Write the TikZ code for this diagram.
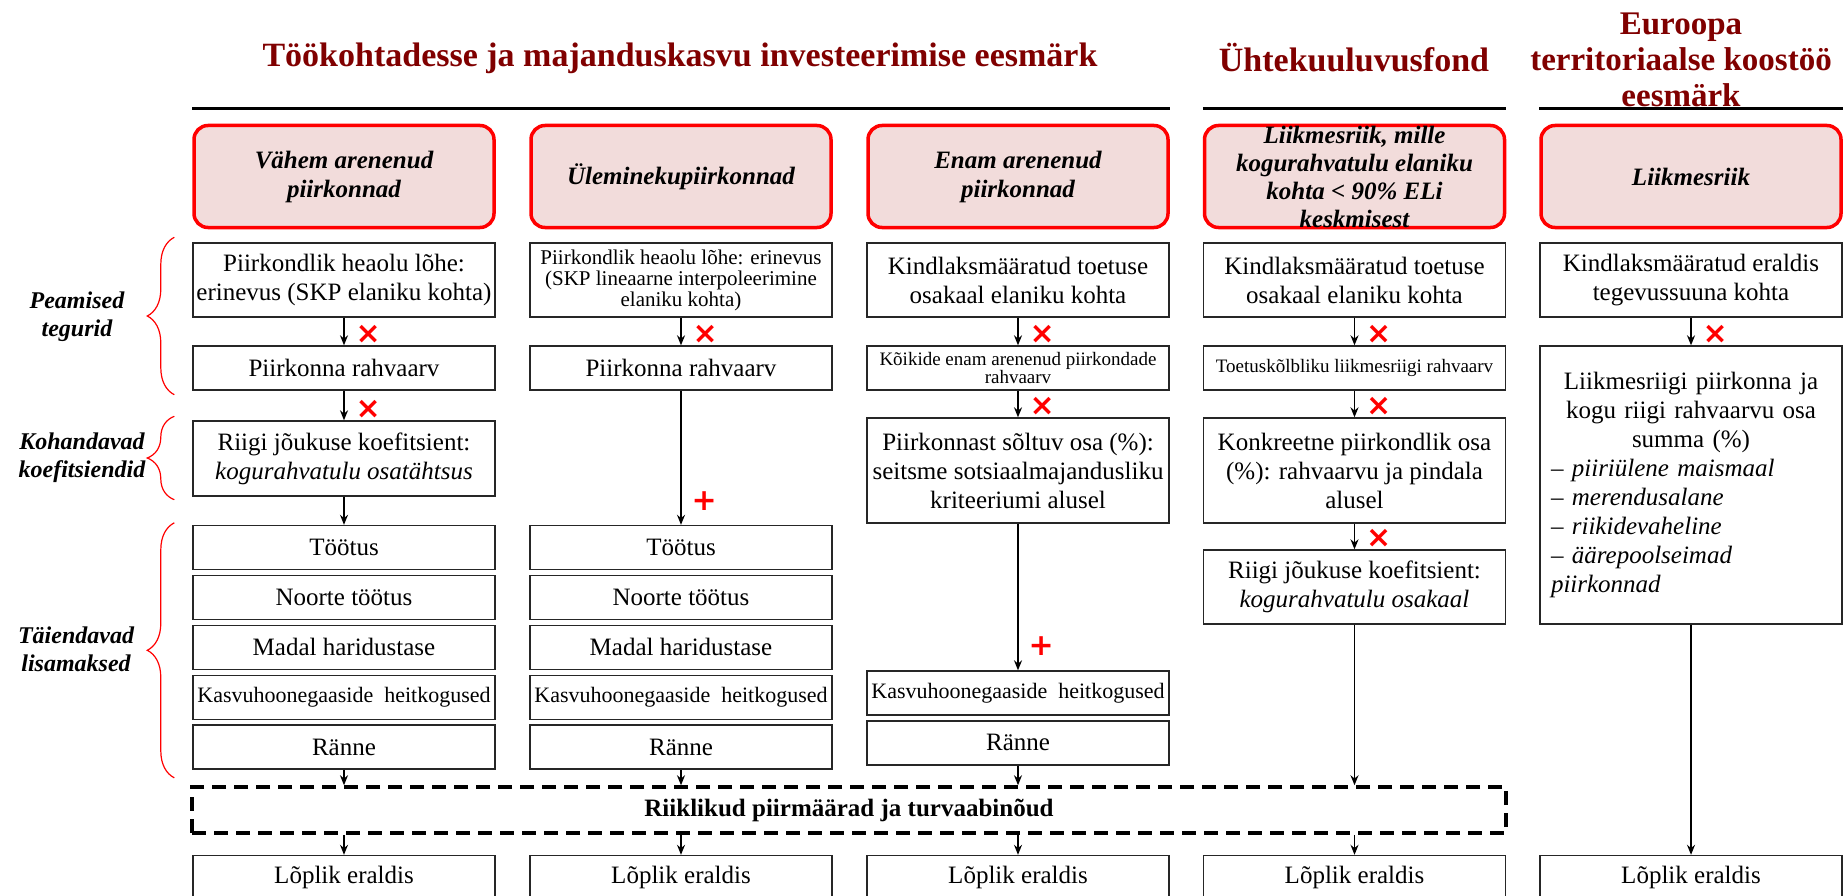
\documentclass[tikz,border=0pt]{standalone}
\usepackage{fontspec}
\setmainfont{Liberation Serif}
\newfontfamily\markfont{DejaVu Sans}
\usepackage{tikz}
\usetikzlibrary{positioning}
\usetikzlibrary{arrows.meta,decorations.pathreplacing}
\definecolor{titlered}{RGB}{128,0,0}
\definecolor{headfill}{RGB}{242,220,219}

\begin{document}
\begin{tikzpicture}[->,>={Stealth[length=10pt,width=8pt]},x=1pt,y=-1pt,node distance=4.5pt,
        box/.style={draw=black!85,line width=1.4pt,minimum width=302pt,minimum height=44pt,
          inner sep=1pt,align=center,font=\fontsize{25}{29}\selectfont},
        headbox/.style={draw=red,fill=headfill,line width=3.5pt,rounded corners=14pt,
          minimum width=300pt,minimum height=102pt,inner sep=0pt,align=center,
          font=\fontsize{25}{29}\selectfont\bfseries\itshape},
        headline/.style={text=titlered,align=center,font=\fontsize{34}{36}\selectfont\bfseries},
        topline/.style={-,line width=2.5pt},
        sidelabel/.style={align=center,font=\fontsize{24}{28}\selectfont\bfseries\itshape},
        brc/.style={-,draw=red,line width=1.2pt,decorate,decoration={brace,amplitude=27pt}},
        smallb/.style={font=\fontsize{21}{21}\selectfont},
        smallc/.style={font=\fontsize{19}{18}\selectfont},
        kasvtext/.style={font=\fontsize{22}{26}\selectfont},
        riikbox/.style={draw,line width=3.5pt,dash pattern=on 14pt off 8pt,minimum width=1314pt,
          minimum height=46pt,font=\fontsize{25}{29}\selectfont\bfseries},
        xmark/.style={pos=1,anchor=west,xshift=11pt,yshift=11pt,inner sep=0pt,text=red,
          font=\markfont\bfseries\fontsize{30}{30}\selectfont},
        plusmark/.style={xmark,xshift=-1pt,yshift=13pt},
        every edge/.style={draw,line width=1.3pt}]

\useasboundingbox (0,0) rectangle (1843,896);
\clip (0,0) rectangle (1843,896);

% headings
\node[headline] (t1) at (680,58) {Töökohtadesse ja majanduskasvu investeerimise eesmärk};
\node[headline] (t2) at (1354,58) {Ühtekuuluvusfond};
\node[headline,font=\fontsize{33}{36}\selectfont\bfseries] (t3) at (1681,60) {Euroopa\\territoriaalse koostöö\\eesmärk};

\node[headbox] (h1) at (344,176.5) {Vähem arenenud\\piirkonnad};
\node[headbox] (h2) at (681,176.5) {Üleminekupiirkonnad};
\node[headbox] (h3) at (1018,176.5) {Enam arenenud\\piirkonnad};
\node[headbox,font=\fontsize{25}{28}\selectfont\bfseries\itshape] (h4) at (1354.5,176.5)
  {Liikmesriik, mille\\kogurahvatulu elaniku\\kohta < 90\% ELi\\keskmisest};
\node[headbox] (h5) at (1691,176.5) {Liikmesriik};

\draw[topline] ([yshift=15pt]h1.north west) -- ([yshift=15pt]h3.north east);
\draw[topline] ([yshift=15pt]h4.north west) -- ([yshift=15pt]h4.north east);
\draw[topline] ([yshift=15pt]h5.north west) -- ([yshift=15pt,xshift=2pt]h5.north east);

% column 1
\node[box,minimum height=74pt] (a1) at (344,280) {Piirkondlik heaolu lõhe:\\erinevus (SKP elaniku kohta)};
\node[box] (a2) at (344,368) {Piirkonna rahvaarv};
\node[box,minimum height=75pt] (a3) at (344,458.5) {Riigi jõukuse koefitsient:\\\textit{kogurahvatulu osatähtsus}};
\node[box] (toot1) at (344,547.5) {Töötus};
\node[box] (noor1) [below=of toot1] {Noorte töötus};
\node[box] (madal1) [below=of noor1] {Madal haridustase};
\node[box,kasvtext] (kasv1) [below=of madal1] {Kasvuhoonegaaside~~heitkogused};
\node[box] (ranne1) [below=of kasv1] {Ränne};

% column 2
\node[box,smallb,minimum height=74pt] (b1) at (681,280) {Piirkondlik heaolu lõhe: erinevus\\(SKP lineaarne interpoleerimine\\elaniku kohta)};
\node[box] (b2) at (681,368) {Piirkonna rahvaarv};
\node[box] (toot2) at (681,547.5) {Töötus};
\node[box] (noor2) [below=of toot2] {Noorte töötus};
\node[box] (madal2) [below=of noor2] {Madal haridustase};
\node[box,kasvtext] (kasv2) [below=of madal2] {Kasvuhoonegaaside~~heitkogused};
\node[box] (ranne2) [below=of kasv2] {Ränne};

% column 3
\node[box,minimum height=74pt] (c1) at (1018,280) {Kindlaksmääratud toetuse\\osakaal elaniku kohta};
\node[box,smallc] (c2) at (1018,368) {Kõikide enam arenenud piirkondade\\rahvaarv};
\node[box,minimum height=105pt] (c3) at (1018,470.5) {Piirkonnast sõltuv osa (\%):\\seitsme sotsiaalmajandusliku\\kriteeriumi alusel};
\node[box,kasvtext] (kasv3) at (1018,693) {Kasvuhoonegaaside~~heitkogused};
\node[box] (ranne3) [below=of kasv3] {Ränne};

% column 4
\node[box,minimum height=74pt] (d1) at (1354.5,280) {Kindlaksmääratud toetuse\\osakaal elaniku kohta};
\node[box,smallc] (d2) at (1354.5,368) {Toetuskõlbliku liikmesriigi rahvaarv};
\node[box,minimum height=105pt] (d3) at (1354.5,470.5) {Konkreetne piirkondlik osa\\(\%): rahvaarvu ja pindala\\alusel};
\node[box,minimum height=74pt] (d4) at (1354.5,587) {Riigi jõukuse koefitsient:\\\textit{kogurahvatulu osakaal}};

% column 5
\node[box,minimum height=278pt,text width=280pt,align=left] (e2) at (1691,485)
  {{\centering Liikmesriigi piirkonna ja\\kogu riigi rahvaarvu osa\\summa (\%)\par}
   – \textit{piiriülene maismaal}\\– \textit{merendusalane}\\– \textit{riikidevaheline}\\
   – \textit{äärepoolseimad}\\\textit{piirkonnad}};
\node[box,minimum height=74pt] (e1) at (1691,280) {Kindlaksmääratud eraldis\\tegevussuuna kohta};

% bottom
\node[riikbox] (riik) at (849,810) {Riiklikud piirmäärad ja turvaabinõud};
\node[box] (lop1) at (344,877.5) {Lõplik eraldis};
\node[box] (lop2) at (681,877.5) {Lõplik eraldis};
\node[box] (lop3) at (1018,877.5) {Lõplik eraldis};
\node[box] (lop4) at (1354.5,877.5) {Lõplik eraldis};
\node[box] (lop5) at (1691,877.5) {Lõplik eraldis};

% braces
\draw[brc] ([xshift=-18pt,yshift=-4pt]a2.south west) -- ([xshift=-18pt,yshift=5pt]a1.north west);
\draw[brc] ([xshift=-18pt,yshift=-3pt]a3.south west) -- ([xshift=-18pt,yshift=4pt]a3.north west);
\draw[brc] ([xshift=-18pt,yshift=-8pt]ranne1.south west) -- ([xshift=-18pt,yshift=2pt]toot1.north west);
\node[sidelabel] (peam) at (77,317) {Peamised\\tegurid};
\node[sidelabel] (kohan) at (82,458) {Kohandavad\\koefitsiendid};
\node[sidelabel] (taien) at (76,649) {Täiendavad\\lisamaksed};

\path (a1) edge node[xmark] {×} (a2)
      (a2) edge node[xmark] {×} (a3)
      (a3) edge (toot1)
      (b1) edge node[xmark] {×} (b2)
      (b2) edge node[plusmark] {+} (toot2)
      (c1) edge node[xmark] {×} (c2)
      (c2) edge node[xmark] {×} (c3)
      (c3) edge node[plusmark] {+} (kasv3)
      (d1) edge node[xmark] {×} (d2)
      (d2) edge node[xmark] {×} (d3)
      (d3) edge node[xmark] {×} (d4)
      (e1) edge node[xmark] {×} (e2)
      (e2) edge (lop5)
      (ranne1) edge (ranne1 |- riik.north)
      (ranne2) edge (ranne2 |- riik.north)
      (ranne3) edge (ranne3 |- riik.north)
      (d4) edge (d4 |- riik.north)
      (riik.south -| lop1) edge (lop1)
      (riik.south -| lop2) edge (lop2)
      (riik.south -| lop3) edge (lop3)
      (riik.south -| lop4) edge (lop4);

\end{tikzpicture}
\end{document}
